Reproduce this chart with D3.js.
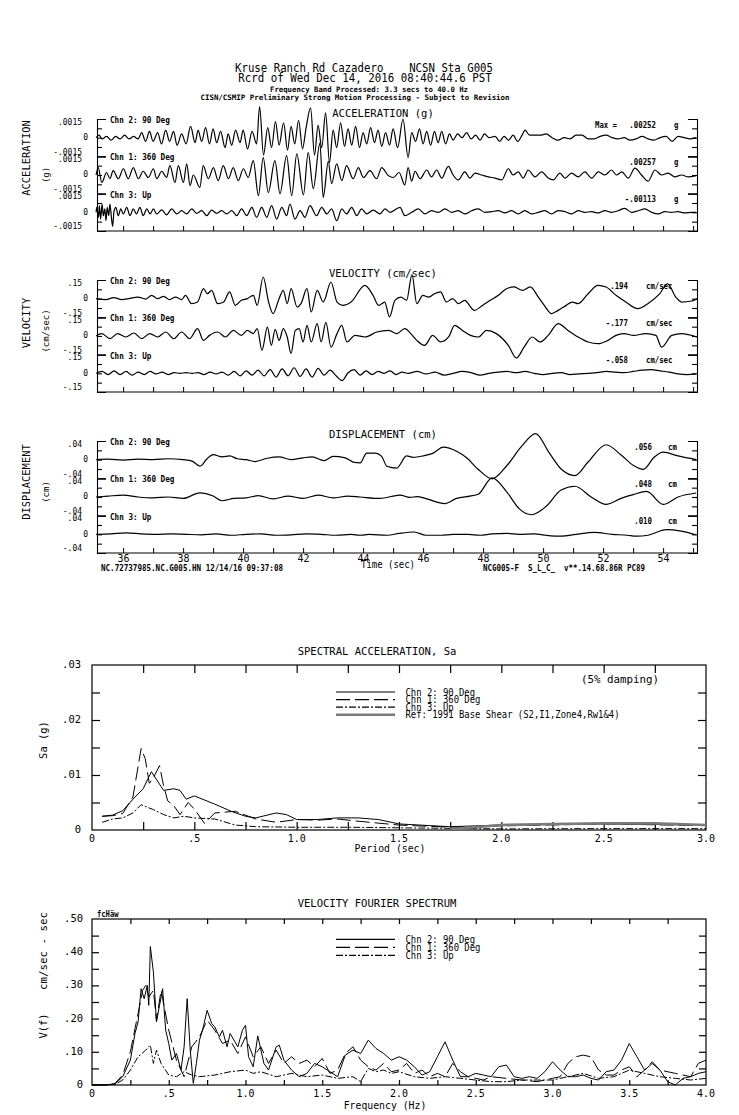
<!DOCTYPE html>
<html>
<head>
<meta charset="utf-8">
<script src="https://cdn.jsdelivr.net/npm/d3@7"></script>
<style>
  body { margin: 0; background: #fff; }
  text { font-family: "DejaVu Sans Mono", "Liberation Mono", monospace; fill: #000; white-space: pre; }
</style>
</head>
<body>
<script>
// ---------------- data ----------------
// time histories: [time sec, value]; acc in 1e-4 g, vel in 0.01 cm/s, disp in 0.001 cm
var accCh2 = [[35.1,0],[35.2,2],[35.3,-1],[35.45,1],[35.6,-2],[35.75,1],[35.9,-1],[36.05,2],[36.2,-1],[36.35,1],[36.5,-1],
  [36.62,4],[36.75,-3],[36.88,5],[37.0,-3],[37.15,4],[37.28,-5],[37.42,6],[37.55,-3],[37.68,5],[37.8,-6],[37.95,3],[38.1,-5],
  [38.25,9],[38.4,-4],[38.5,6],[38.62,-3],[38.75,8],[38.88,-5],[39.0,7],[39.12,-4],[39.25,5],[39.4,-8],[39.5,3],[39.62,-6],
  [39.75,6],[39.9,-4],[40.0,6],[40.15,-9],[40.3,5],[40.45,-5],[40.55,25],[40.68,-14],[40.82,8],[40.95,-8],[41.08,13],[41.2,-6],
  [41.35,12],[41.48,-10],[41.6,9],[41.72,-5],[41.85,14],[41.98,-9],[42.1,8],[42.25,24],[42.38,-14],[42.5,10],[42.62,-8],
  [42.75,20],[42.88,-20],[43.0,6],[43.12,-8],[43.25,12],[43.38,-7],[43.5,7],[43.62,-6],[43.75,9],[43.88,-8],[44.0,4],
  [44.12,-5],[44.25,8],[44.38,-4],[44.5,6],[44.62,-7],[44.75,4],[44.88,-6],[45.0,7],[45.15,-8],[45.33,15],[45.5,-16],
  [45.62,4],[45.75,-3],[45.88,7],[46.0,-5],[46.12,5],[46.25,-6],[46.38,5],[46.5,-4],[46.62,5],[46.75,-5],[46.88,3],[47.0,-2],
  [47.15,3],[47.3,0],[47.45,4],[47.6,-1],[47.75,2],[47.9,-2],[48.05,3],[48.2,0],[48.4,1],[48.55,-3],[48.7,1],[48.85,-2],
  [49.0,2],[49.15,-3],[49.3,2],[49.4,6],[49.55,2],[49.7,2],[49.9,2],[50.1,3],[50.3,0],[50.5,-2],[50.7,0],[50.9,-1],[51.1,2],
  [51.3,2],[51.5,-1],[51.7,-1],[51.9,1],[52.1,2],[52.3,0],[52.5,-1],[52.7,0],[52.9,-2],[53.1,-1],[53.3,1],[53.5,-1],[53.7,-2],
  [53.9,0],[54.1,1],[54.3,-3],[54.5,1],[54.7,0],[54.9,-1],[55.1,0]];
var accCh1 = [[35.1,0],[35.17,6],[35.29,-6],[35.45,2],[35.56,-3],[35.67,3.5],[35.84,-3],[36.01,5],[36.17,-3],[36.34,6],
  [36.51,-3],[36.67,3],[36.84,-2],[37.01,5],[37.12,-3],[37.29,3],[37.45,-2],[37.56,7.5],[37.73,-6],[37.84,7.5],[38.01,-6],
  [38.12,9],[38.23,-8.5],[38.34,0],[38.56,-10],[38.67,7.5],[38.84,-3],[39.01,6],[39.17,-4.5],[39.34,7.5],[39.51,-3],[39.67,6],
  [39.84,-4.5],[40.01,5],[40.17,-2],[40.34,11.5],[40.51,-16.6],[40.67,14],[40.84,-14],[41.06,11.5],[41.23,-15],[41.45,15.5],
  [41.62,-16.6],[41.79,17],[42.01,-16],[42.17,18],[42.34,-11],[42.56,25.7],[42.67,-18],[42.84,11],[42.95,-7],[43.12,9],
  [43.29,-4.5],[43.45,7.5],[43.67,-3],[43.84,6],[44.01,-2],[44.23,3.5],[44.45,-3],[44.62,6],[44.84,-0.5],[45.01,-2],[45.2,2],
  [45.39,-8],[45.5,6],[45.62,-5],[45.73,3],[45.9,-3],[46.12,4],[46.28,-1.5],[46.45,4],[46.62,-2.5],[46.84,7],[47.0,0],
  [47.17,-4],[47.39,2.5],[47.56,-2.5],[47.73,1.5],[47.95,0],[48.17,-1.5],[48.39,-2.5],[48.62,-4],[48.84,5],[49.0,0],[49.17,2.5],
  [49.34,-2.5],[49.5,4],[49.73,-1.5],[49.95,2.5],[50.17,-2.5],[50.34,-4],[50.56,1.5],[50.73,-2.5],[50.95,1.5],[51.17,-1.5],
  [51.39,2.5],[51.62,-2.5],[51.84,2.5],[52.06,0],[52.28,4],[52.45,0],[52.62,2.5],[52.84,-2.5],[53.06,5.5],[53.28,0],[53.5,-5],
  [53.73,4],[53.95,0],[54.17,1.5],[54.39,-1.5],[54.62,0],[54.84,-1.5],[55.1,-0.5]];
var accCh3 = [[35.1,0],[35.12,4],[35.18,-4],[35.21,5.5],[35.25,-5.4],[35.3,6.7],[35.34,-2.7],[35.39,2.7],[35.43,-6.7],[35.47,4],
  [35.52,-2.7],[35.56,6.7],[35.61,-4],[35.65,-11.3],[35.7,1.3],[35.76,4],[35.84,-2.7],[35.92,2.7],[36.01,-1.3],[36.12,4],
  [36.23,-2.7],[36.34,2.7],[36.45,-1.3],[36.56,4],[36.67,-2.7],[36.79,2.7],[36.9,-1.3],[37.01,2.7],[37.12,-1.3],[37.29,2],
  [37.45,-2],[37.62,2.7],[37.79,-1.3],[37.95,1.3],[38.12,-1.3],[38.29,2.7],[38.45,-0.8],[38.62,1.3],[38.79,-2.7],[38.95,1.8],
  [39.12,-0.8],[39.29,1.3],[39.45,-1.3],[39.62,1.3],[39.79,-2.7],[39.95,2.7],[40.12,-2.7],[40.29,4],[40.45,-4],[40.62,4],
  [40.79,-4],[40.95,5.4],[41.12,-5.4],[41.29,4],[41.45,-2.7],[41.56,6.7],[41.73,-5.4],[41.9,1.3],[42.06,-4],[42.23,5.4],
  [42.45,-2.7],[42.62,4],[42.79,-1.3],[42.95,2.7],[43.12,-6.7],[43.29,2.7],[43.45,-1.3],[43.62,4],[43.79,-2.7],[43.95,2.7],
  [44.12,-1.3],[44.34,1.8],[44.56,-1.3],[44.73,2.7],[44.9,0],[45.23,4],[45.39,-2.7],[45.62,0],[45.84,2.7],[46.06,-1.3],
  [46.28,1.3],[46.5,0],[46.73,2.7],[46.95,0],[47.17,1.3],[47.39,-1.3],[47.62,1.3],[47.84,2.7],[48.06,0],[48.28,0.5],[48.5,1.3],
  [48.73,-0.5],[48.95,1.3],[49.17,-1.3],[49.39,1.3],[49.62,-1.3],[49.84,0],[50.06,1.3],[50.28,-1.3],[50.5,1.3],[50.73,0.5],
  [50.95,-1.3],[51.17,1.3],[51.39,0],[51.62,0.5],[51.84,-0.5],[52.06,1.3],[52.28,0],[52.5,1.3],[52.72,3.2],[52.95,0],
  [53.17,1.3],[53.39,2.7],[53.62,0],[53.84,-1.3],[54.06,0.5],[54.28,0],[54.5,0.5],[54.72,-0.5],[54.95,0],[55.1,0]];

var velCh2 = [[35.1,0],[35.42,-0.8],[35.69,0.8],[35.96,-0.8],[36.23,0.3],[36.49,1.3],[36.76,-0.3],[36.95,2.7],[37.15,0],
  [37.35,1.9],[37.55,-0.8],[37.75,1.3],[37.95,-0.8],[38.08,2.7],[38.28,-4],[38.48,-2.7],[38.68,8],[38.81,4],[38.95,6.7],
  [39.15,-4],[39.35,-2.7],[39.55,5.4],[39.74,-5.4],[39.94,-1.3],[40.14,0],[40.34,2.7],[40.47,-5.4],[40.67,17.4],[40.85,-2.7],
  [41.0,-12],[41.2,0],[41.34,6.7],[41.47,-4],[41.6,8],[41.8,-6.7],[41.93,-4],[42.13,8],[42.27,-10.7],[42.47,6.7],[42.67,-2.7],
  [42.93,13.4],[43.13,-2.7],[43.33,-5.4],[43.6,-2.7],[44.06,10.7],[44.33,2.7],[44.52,-5.4],[44.72,-2.7],[44.88,-14.7],
  [45.06,-1.3],[45.26,1.3],[45.45,-1.3],[45.63,19.4],[45.79,-4],[45.99,2.7],[46.19,1.3],[46.38,4],[46.58,5.4],[46.78,-2.7],
  [46.98,0],[47.18,-4],[47.38,-1.3],[47.71,-9.4],[47.98,-5.4],[48.24,-1.3],[48.51,2.7],[48.78,8],[49.04,9.4],[49.31,6.7],
  [49.57,9.4],[49.84,1.3],[50.04,-5.4],[50.28,-12],[50.5,-9.4],[50.77,-5.4],[50.97,-2.7],[51.17,-4],[51.5,4],[51.83,10.7],
  [52.1,9.4],[52.43,2.7],[52.76,-2.7],[53.16,-8],[53.49,-4],[53.89,4],[54.15,12],[54.42,1.3],[54.62,-2.7],[54.95,-1.9],[55.13,0]];
var velCh1 = [[35.1,0],[35.29,1.9],[35.56,-2.1],[35.82,1.9],[36.09,-0.8],[36.36,2.4],[36.62,-2.1],[36.89,1.9],[37.15,-0.8],
  [37.42,3.2],[37.69,-2.1],[37.95,3.2],[38.22,-2.1],[38.48,6],[38.68,-3.5],[38.88,0.5],[39.15,3.2],[39.41,-0.8],[39.68,4.5],
  [39.94,0.5],[40.14,4.5],[40.34,1.9],[40.47,6],[40.63,-11.5],[40.81,7.2],[40.94,-7.5],[41.07,5.4],[41.2,-3.5],[41.34,5.9],
  [41.47,-0.8],[41.6,-14],[41.74,4.5],[41.87,5.9],[42.0,-4.8],[42.13,8.6],[42.27,-4.8],[42.47,10],[42.6,-4.8],[42.76,11],
  [42.93,-9],[43.13,1.9],[43.29,8.6],[43.46,-4.8],[43.73,0.5],[44.06,-0.8],[44.46,3.2],[44.86,4.5],[45.12,1.9],[45.39,5.9],
  [45.59,1.9],[45.79,-3.5],[46.05,-7.5],[46.32,0.5],[46.58,-4.8],[46.85,-0.8],[47.05,8.6],[47.31,4.5],[47.58,0.5],[47.85,-0.8],
  [48.11,4.5],[48.44,1.9],[48.84,-7.5],[49.11,-17.7],[49.37,-8.8],[49.64,-0.8],[49.9,-4.8],[50.17,0.5],[50.5,10],[50.83,4.5],
  [51.17,-0.8],[51.5,-4.8],[51.83,-6.2],[52.16,-3.5],[52.43,0.5],[52.69,1.9],[53.02,0.5],[53.42,1.9],[53.76,0.5],[53.95,-9],
  [54.29,0.5],[54.62,1.9],[54.95,0.5],[55.13,-0.8]];
var velCh3 = [[35.1,0],[35.3,1.5],[35.5,-1],[35.7,2],[35.9,-1],[36.1,1.5],[36.3,-1.5],[36.5,1],[36.7,-1],[36.9,1.5],[37.1,-0.5],
  [37.3,1],[37.5,-1],[37.7,0.5],[37.9,0],[38.1,0.5],[38.3,0],[38.5,0.5],[38.7,-1],[38.9,1],[39.1,-0.5],[39.3,1],[39.5,-1.5],
  [39.7,1.5],[39.9,-2],[40.1,2],[40.3,-1.5],[40.5,2.5],[40.7,-2],[40.9,3],[41.1,-3],[41.3,3.5],[41.5,-2],[41.7,4.5],[41.9,-2.5],
  [42.1,3.5],[42.3,-3],[42.5,4],[42.7,-1.5],[42.9,2.5],[43.1,-2],[43.3,-5.8],[43.5,0.5],[43.7,3],[43.9,-1.5],[44.1,2],[44.3,-1],
  [44.5,1.5],[44.7,0],[44.9,2],[45.1,-1],[45.3,1],[45.5,0],[45.8,1.5],[46.1,-0.5],[46.4,1],[46.7,-1.5],[47.0,0],[47.3,1.5],
  [47.6,0.5],[47.9,-1.5],[48.2,0],[48.5,1],[48.8,1.5],[49.1,0.5],[49.4,1.5],[49.7,0],[50.0,-1],[50.3,0],[50.6,0.5],[50.9,-1],
  [51.2,-0.5],[51.5,0],[51.8,0.5],[52.1,1.5],[52.4,1],[52.7,0.5],[53.0,1.5],[53.3,2.5],[53.6,3],[53.9,2],[54.2,1],[54.5,-0.5],
  [54.8,-1],[55.1,-0.5]];

var dispCh2 = [[35.1,0],[35.5,1],[36.0,-1],[36.5,1],[37.0,0],[37.5,2],[38.0,0],[38.3,-3],[38.56,-14],[38.8,2],[39.0,11],
  [39.3,6],[39.56,8],[39.8,2],[40.1,0],[40.4,-4],[40.8,3],[41.2,6],[41.6,0],[42.0,4],[42.3,6],[42.7,-2],[43.0,7],[43.4,4],
  [43.7,-6],[43.9,-7],[44.12,14],[44.4,14],[44.62,7],[44.79,-14],[45.12,-18],[45.45,8],[45.67,5],[46.0,8],[46.34,14],
  [46.67,27],[47.12,18],[47.45,4],[47.84,-21],[48.3,-41],[48.8,-12],[49.3,30],[49.75,56],[50.2,15],[50.6,-20],[51.06,-34],
  [51.5,-5],[52.1,32],[52.6,10],[53.0,-12],[53.34,-21],[53.7,5],[54.0,16],[54.5,8],[55.1,0]];
var dispCh1 = [[35.1,0],[35.5,2],[36.0,4],[36.5,0],[37.0,-2],[37.5,0],[38.0,-3],[38.56,9],[39.0,2],[39.3,-8],[39.7,-3],
  [40.1,-2],[40.5,3],[41.0,-4],[41.5,2],[42.0,-3],[42.5,4],[43.0,-2],[43.5,2],[43.9,0],[44.56,-3],[45.23,4],[45.56,-1],
  [45.79,1],[46.12,-4],[46.73,-14],[47.12,-3],[47.56,2],[47.84,6],[48.3,41],[48.8,10],[49.2,-25],[49.62,-38],[50.1,-20],
  [50.6,15],[51.06,23],[51.6,0],[52.1,-16],[52.6,-3],[53.0,5],[53.45,12],[54.0,-16],[54.5,0],[55.1,8.5]];
var dispCh3 = [[35.1,0],[35.6,1],[36.1,3],[36.6,1],[37.1,0],[37.6,1],[38.1,0],[38.6,-1],[39.1,1],[39.6,-2],[40.1,0],[40.6,1],
  [41.1,-2],[41.6,-1],[42.1,1],[42.6,0],[43.1,-2],[43.6,0],[43.9,-2],[44.2,0],[44.8,-2],[45.2,2],[45.7,5],[46.1,-2],[46.6,-2],
  [47.0,0],[47.5,0],[47.9,-2],[48.3,1],[48.8,2],[49.2,0],[49.7,1],[50.1,-2],[50.6,-4],[51.1,0],[51.7,4],[52.3,0],[52.8,-2],
  [53.1,-4],[53.5,-2],[54.1,10],[54.6,7],[55.1,-1]];

var chanNames = ["Chn 2: 90 Deg", "Chn 1: 360 Deg", "Chn 3: Up"];
var accMax = [".00252", ".00257", "-.00113"];
var velMax = [".194", "-.177", "-.058"];
var dispMax = [".056", ".048", ".010"];
var timeTicks = [36, 37, 38, 39, 40, 41, 42, 43, 44, 45, 46, 47, 48, 49, 50, 51, 52, 53, 54, 55];

// spectral acceleration: [period sec, Sa g]
var saCh2 = [[0.05,.0025],[0.1,.0027],[0.15,.0035],[0.2,.0056],[0.25,.0075],[0.29,.0106],[0.35,.0072],[0.4,.0075],[0.43,.0072],
  [0.46,.0056],[0.5,.0062],[0.6,.0047],[0.68,.0034],[0.75,.0025],[0.8,.0022],[0.9,.0031],[0.95,.0028],[1.0,.0019],[1.1,.0019],
  [1.2,.0022],[1.3,.0022],[1.4,.0019],[1.5,.0011],[1.75,.0006],[2.0,.0009],[2.5,.0011],[3.0,.0009]];
var saCh1 = [[0.05,.0025],[0.1,.0026],[0.15,.003],[0.2,.006],[0.24,.0148],[0.26,.013],[0.28,.0085],[0.3,.0095],[0.33,.0117],
  [0.35,.008],[0.37,.0053],[0.4,.0044],[0.43,.0028],[0.47,.005],[0.5,.0038],[0.55,.0012],[0.6,.0031],[0.7,.0034],[0.8,.002],
  [0.9,.0014],[1.0,.0019],[1.1,.0018],[1.2,.002],[1.3,.0016],[1.5,.0009],[1.75,.0005],[2.0,.00075],[2.5,.0011],[3.0,.0008]];
var saCh3 = [[0.05,.0014],[0.1,.002],[0.15,.0022],[0.2,.0031],[0.24,.0046],[0.3,.0037],[0.35,.0028],[0.4,.0022],[0.45,.0025],
  [0.5,.0022],[0.6,.002],[0.7,.0009],[0.8,.0006],[1.0,.0005],[1.25,.0005],[1.5,.0004],[2.0,.0002],[2.5,.00025],[3.0,.00025]];
var saRef = [[1.75,.0002],[1.8,.0003],[2.0,.0009],[2.25,.0011],[2.5,.0012],[2.75,.0012],[3.0,.0009]];
var saTicks = ["0", ".5", "1.0", "1.5", "2.0", "2.5", "3.0"];
var saYTicks = ["0", ".01", ".02", ".03"];

// velocity Fourier spectrum: [freq Hz, amplitude cm/sec-sec]
var fsCh2 = [[0,0],[0.1,0],[0.15,.003],[0.2,.025],[0.25,.075],[0.28,.155],[0.3,.19],[0.32,.29],[0.34,.26],[0.36,.30],[0.37,.24],
  [0.38,.417],[0.4,.34],[0.42,.19],[0.44,.24],[0.46,.29],[0.48,.165],[0.5,.125],[0.52,.075],[0.55,.095],[0.58,.045],[0.6,.115],
  [0.62,.26],[0.64,.105],[0.66,.005],[0.68,.065],[0.7,.135],[0.72,.165],[0.75,.225],[0.78,.185],[0.8,.175],[0.83,.145],
  [0.85,.165],[0.88,.115],[0.9,.155],[0.95,.115],[0.98,.165],[1.0,.18],[1.02,.085],[1.05,.055],[1.08,.148],[1.12,.065],
  [1.15,.045],[1.2,.115],[1.22,.12],[1.25,.075],[1.3,.045],[1.35,.025],[1.4,.035],[1.45,.065],[1.5,.055],[1.55,.04],[1.6,.025],
  [1.65,.09],[1.7,.105],[1.75,.095],[1.8,.135],[1.85,.11],[1.9,.095],[1.95,.075],[2.0,.085],[2.05,.075],[2.1,.055],[2.15,.03],
  [2.2,.04],[2.25,.085],[2.3,.13],[2.35,.075],[2.4,.025],[2.45,.025],[2.5,.035],[2.55,.03],[2.6,.025],[2.65,.055],[2.7,.06],
  [2.75,.025],[2.8,.02],[2.85,.025],[2.9,.02],[2.95,.04],[3.0,.07],[3.05,.045],[3.1,.025],[3.15,.025],[3.2,.03],[3.25,.02],
  [3.3,.015],[3.35,.04],[3.4,.045],[3.45,.075],[3.5,.125],[3.55,.085],[3.6,.045],[3.65,.065],[3.7,.045],[3.75,.01],[3.8,0],
  [3.85,.02],[3.9,.025],[3.95,.035],[4.0,.04]];
var fsCh1 = [[0,0],[0.1,0],[0.15,.005],[0.2,.03],[0.25,.1],[0.28,.17],[0.3,.215],[0.33,.285],[0.35,.30],[0.37,.265],[0.4,.285],
  [0.42,.195],[0.45,.285],[0.5,.165],[0.55,.075],[0.6,.025],[0.65,.115],[0.7,.145],[0.75,.195],[0.8,.165],[0.85,.125],[0.9,.135],
  [0.95,.095],[1.0,.145],[1.05,.085],[1.1,.115],[1.15,.065],[1.2,.105],[1.25,.065],[1.3,.085],[1.35,.065],[1.4,.075],[1.45,.055],
  [1.5,.08],[1.55,.035],[1.6,.045],[1.65,.095],[1.7,.115],[1.75,.075],[1.8,.055],[1.85,.045],[1.9,.065],[1.95,.04],[2.0,.045],
  [2.05,.065],[2.1,.035],[2.15,.045],[2.2,.025],[2.25,.035],[2.3,.025],[2.35,.065],[2.4,.04],[2.45,.025],[2.5,.02],[2.55,.015],
  [2.6,.025],[2.7,.02],[2.8,.015],[2.9,.01],[3.0,.02],[3.05,.025],[3.1,.065],[3.15,.085],[3.2,.09],[3.25,.085],[3.3,.045],
  [3.35,.03],[3.4,.03],[3.45,.045],[3.5,.055],[3.55,.025],[3.6,.045],[3.65,.07],[3.7,.045],[3.75,.04],[3.8,.035],[3.85,.03],
  [3.9,.025],[3.95,.065],[4.0,.075]];
var fsCh3 = [[0,0],[0.15,.002],[0.2,.015],[0.25,.045],[0.3,.085],[0.35,.105],[0.38,.12],[0.4,.065],[0.42,.105],[0.45,.065],
  [0.5,.03],[0.55,.025],[0.6,.04],[0.65,.03],[0.7,.025],[0.8,.03],[0.9,.04],[1.0,.045],[1.05,.035],[1.1,.04],[1.2,.025],[1.3,.035],
  [1.4,.025],[1.5,.03],[1.6,.02],[1.7,.025],[1.75,.01],[1.8,.05],[1.85,.04],[1.9,.045],[1.95,.035],[2.0,.04],[2.1,.025],[2.2,.02],
  [2.3,.025],[2.4,.02],[2.5,.015],[2.6,.01],[2.7,.01],[2.8,.015],[2.9,.015],[3.0,.015],[3.1,.025],[3.2,.035],[3.3,.02],[3.4,.025],
  [3.5,.045],[3.6,.035],[3.7,.025],[3.8,.02],[3.9,.015],[4.0,.02]];
var fsTicks = ["0", ".5", "1.0", "1.5", "2.0", "2.5", "3.0", "3.5", "4.0"];
var fsYTicks = ["0", ".10", ".20", ".30", ".40", ".50"];

// ---------------- drawing ----------------
var svg = d3.select("body").append("svg").attr("width", 739).attr("height", 1115);

// plotter-style text: monospace squeezed to a fixed pitch per character
function label(g, x, y, s, size, cw, anchor, weight) {
  var t = g.append("text")
    .attr("x", x).attr("y", y)
    .attr("xml:space", "preserve")
    .attr("font-size", size)
    .attr("text-anchor", anchor || "start")
    .attr("font-weight", weight || "normal")
    .text(s);
  if (cw) t.attr("textLength", s.length * cw).attr("lengthAdjust", "spacingAndGlyphs");
  return t;
}
function vlabel(g, x, y, s, size, cw) {
  var gg = g.append("g").attr("transform", "translate(" + x + "," + y + ") rotate(-90)");
  return label(gg, 0, 0, s, size, cw, "middle").attr("dominant-baseline", "middle");
}

// header
label(svg, 364, 72, "Kruse Ranch Rd Cazadero    NCSN Sta G005", 11.5, 6.45, "middle");
label(svg, 365, 82, "Rcrd of Wed Dec 14, 2016 08:40:44.6 PST", 11.5, 6.5, "middle");
label(svg, 369, 92, "Frequency Band Processed: 3.3 secs to 40.0 Hz", 7.5, 4.4, "middle", "bold");
label(svg, 355, 100, "CISN/CSMIP Preliminary Strong Motion Processing - Subject to Revision", 7.5, 4.48, "middle", "bold");

var x = d3.scaleLinear().domain([35.13, 55.13]).range([97, 697]);
var subH = 37.33;

var panels = [
  {top: 119, title: "ACCELERATION (g)", titleY: 117, side: "ACCELERATION", sideY: 158, unit: "(g)", unitY: 175,
   lim: 15, tickText: [".0015", "0", "-.0015"], traces: [accCh2, accCh1, accCh3], maxText: accMax, maxEnd: 656,
   maxUnit: "g", unitX: 674, showMaxWord: true},
  {top: 280, title: "VELOCITY (cm/sec)", titleY: 277, side: "VELOCITY", sideY: 323, unit: "(cm/sec)", unitY: 331,
   lim: 15, tickText: [".15", "0", "-.15"], traces: [velCh2, velCh1, velCh3], maxText: velMax, maxEnd: 628,
   maxUnit: "cm/sec", unitX: 646},
  {top: 441, title: "DISPLACEMENT (cm)", titleY: 438, side: "DISPLACEMENT", sideY: 482, unit: "(cm)", unitY: 492,
   lim: 40, tickText: [".04", "0", "-.04"], traces: [dispCh2, dispCh1, dispCh3], maxText: dispMax, maxEnd: 652,
   maxUnit: "cm", unitX: 668, timeLabels: true}
];

panels.forEach(function(p) {
  var g = svg.append("g");
  label(g, 383, p.titleY, p.title, 11, 6.35, "middle");
  vlabel(g, 27, p.sideY, p.side, 11, 6.3);
  vlabel(g, 46, p.unitY, p.unit, 9, 5.4);

  p.traces.forEach(function(data, i) {
    var top = p.top + i * subH, bot = top + subH;
    var y = d3.scaleLinear().domain([-p.lim, p.lim]).range([bot, top]);

    var left = g.append("g").attr("transform", "translate(97,0)")
      .call(d3.axisRight(y).tickValues([-p.lim / 2, 0, p.lim / 2]).tickSizeInner(5).tickSizeOuter(9).tickFormat(""));
    var right = g.append("g").attr("transform", "translate(697,0)")
      .call(d3.axisLeft(y).tickValues([-p.lim / 2, 0, p.lim / 2]).tickSizeInner(5).tickSizeOuter(9).tickFormat(""));
    [left, right].forEach(function(a) { a.selectAll("path, line").attr("stroke", "#000").attr("stroke-width", 1.1); });

    label(g, 82, y(p.lim) + 3, p.tickText[0], 8.5, 4.8, "end").attr("dominant-baseline", "middle");
    label(g, 88, y(0), p.tickText[1], 8.5, 4.8, "end").attr("dominant-baseline", "middle");
    label(g, 82, y(-p.lim) - 4, p.tickText[2], 8.5, 4.8, "end").attr("dominant-baseline", "middle");

    label(g, 110, top + 4, chanNames[i], 8, 4.6, "start", "bold");

    g.append("path").datum(data)
      .attr("fill", "none").attr("stroke", "#000").attr("stroke-width", 1.2)
      .attr("d", d3.line().x(function(d) { return x(d[0]); }).y(function(d) { return y(d[1]); }).curve(d3.curveMonotoneX));

    if (p.showMaxWord && i === 0) label(g, 595, top + 8.5, "Max =", 8, 4.4, "start", "bold");
    label(g, p.maxEnd, top + 8.5, p.maxText[i], 8, 4.45, "end", "bold");
    label(g, p.unitX, top + 8.5, p.maxUnit, 8, 4.4, "start", "bold");
  });

  var bottom = p.top + 3 * subH;
  var ax = g.append("g").attr("transform", "translate(0," + bottom + ")")
    .call(d3.axisBottom(x).tickValues(timeTicks).tickSize(-5).tickPadding(1)
      .tickFormat(function(d) { return p.timeLabels && d % 2 === 0 ? d : ""; }));
  ax.select(".domain").attr("d", "M97,0H697").attr("stroke", "#000").attr("stroke-width", 1.2);
  ax.selectAll("line").attr("stroke", "#000");
  ax.selectAll("text").attr("font-family", "DejaVu Sans Mono").attr("font-size", 11).attr("fill", "#000")
    .attr("textLength", function(d) { return d % 2 === 0 ? 12 : 0; }).attr("lengthAdjust", "spacingAndGlyphs");
});

label(svg, 101, 571, "NC.72737985.NC.G005.HN 12/14/16 09:37:08", 8, 4.55, "start", "bold");
label(svg, 361, 568, "Time (sec)", 10, 5.4, "start");
label(svg, 483, 571, "NCG005-F  S_L_C_  v**.14.68.86R PC89", 8, 4.5, "start", "bold");

// ---------------- spectra ----------------
function spectrum(c) {
  var g = svg.append("g");
  var xs = d3.scaleLinear().domain([0, c.xmax]).range([92, 706]);
  var ys = d3.scaleLinear().domain([0, c.ymax]).range([c.bottom, c.top]);

  g.append("rect").attr("x", 92).attr("y", c.top).attr("width", 614).attr("height", c.bottom - c.top)
    .attr("fill", "none").attr("stroke", "#000").attr("stroke-width", 1.2);

  var xt = d3.range(0.25, c.xmax, 0.25), yt = d3.range(c.ystep, c.ymax - 1e-9, c.ystep);
  var axes = [
    g.append("g").attr("transform", "translate(0," + c.top + ")").call(d3.axisBottom(xs).tickValues(xt).tickSize(c.xtick).tickFormat("")),
    g.append("g").attr("transform", "translate(0," + c.bottom + ")").call(d3.axisTop(xs).tickValues(xt).tickSize(c.xtick).tickFormat("")),
    g.append("g").attr("transform", "translate(92,0)").call(d3.axisRight(ys).tickValues(yt).tickSize(c.ytick).tickFormat("")),
    g.append("g").attr("transform", "translate(706,0)").call(d3.axisLeft(ys).tickValues(yt).tickSize(c.ytick).tickFormat(""))
  ];
  axes.forEach(function(a) { a.select(".domain").remove(); a.selectAll("line").attr("stroke", "#000").attr("stroke-width", 1.2); });

  c.xLabels.forEach(function(s, i) { label(g, xs(i * 0.5), c.bottom + 12, s, 11, 6.0, "middle"); });
  c.yLabels.forEach(function(s, i) { label(g, c.yLabelEnd, ys(i * c.ylabStep), s, 11, 6.3, "end").attr("dominant-baseline", "middle"); });

  label(g, 377, c.titleY, c.title, 11, 6.35, "middle");
  label(g, c.xTitleX, c.xTitleY, c.xTitle, 11, 5.9, "middle");

  var line = d3.line().x(function(d) { return xs(d[0]); }).y(function(d) { return ys(d[1]); });
  c.series.forEach(function(s) {
    g.append("path").datum(s.data).attr("fill", "none")
      .attr("stroke", s.color || "#000").attr("stroke-width", s.width || 1)
      .attr("stroke-dasharray", s.dash || null).attr("d", line);
  });

  c.series.forEach(function(s, i) {
    var ly = c.legendY + i * c.legendStep;
    g.append("line").attr("x1", 336).attr("x2", 395).attr("y1", ly).attr("y2", ly)
      .attr("stroke", s.color || "#000").attr("stroke-width", s.width || 1.2).attr("stroke-dasharray", s.dash || null);
    label(g, 405.5, ly + 3.5, s.name, 10, 5.35, "start");
  });
  return g;
}

var sa = spectrum({
  top: 665, bottom: 830, xmax: 3, ymax: 0.03, ystep: 0.005, ylabStep: 0.01, xtick: 8, ytick: 8,
  xLabels: saTicks, yLabels: saYTicks, yLabelEnd: 81,
  title: "SPECTRAL ACCELERATION, Sa", titleY: 655, xTitle: "Period (sec)", xTitleX: 390, xTitleY: 852,
  legendY: 692, legendStep: 7.6,
  series: [
    {name: "Chn 2: 90 Deg", data: saCh2},
    {name: "Chn 1: 360 Deg", data: saCh1, dash: "14,5"},
    {name: "Chn 3: Up", data: saCh3, dash: "7,2,2,2"},
    {name: "Ref: 1991 Base Shear (S2,I1,Zone4,Rw1&4)", data: saRef, color: "#7a7a7a", width: 2.6}
  ]
});
label(sa, 581, 683, "(5% damping)", 11, 6.5, "start");
vlabel(sa, 44, 740, "Sa (g)", 11, 6.3);

var fs = spectrum({
  top: 919, bottom: 1085, xmax: 4, ymax: 0.5, ystep: 0.05, ylabStep: 0.1, xtick: 5, ytick: 7,
  xLabels: fsTicks, yLabels: fsYTicks, yLabelEnd: 83,
  title: "VELOCITY FOURIER SPECTRUM", titleY: 907, xTitle: "Frequency (Hz)", xTitleX: 385, xTitleY: 1109,
  legendY: 939.3, legendStep: 8,
  series: [
    {name: "Chn 2: 90 Deg", data: fsCh2},
    {name: "Chn 1: 360 Deg", data: fsCh1, dash: "14,5"},
    {name: "Chn 3: Up", data: fsCh3, dash: "7,2,2,2"}
  ]
});
label(fs, 97, 917, "fcHäw", 8, 4.3, "start", "bold");
vlabel(fs, 44, 1026, "V(f)", 11, 6.3);
vlabel(fs, 44, 951, "cm/sec - sec", 11, 6.5);
</script>
</body>
</html>
